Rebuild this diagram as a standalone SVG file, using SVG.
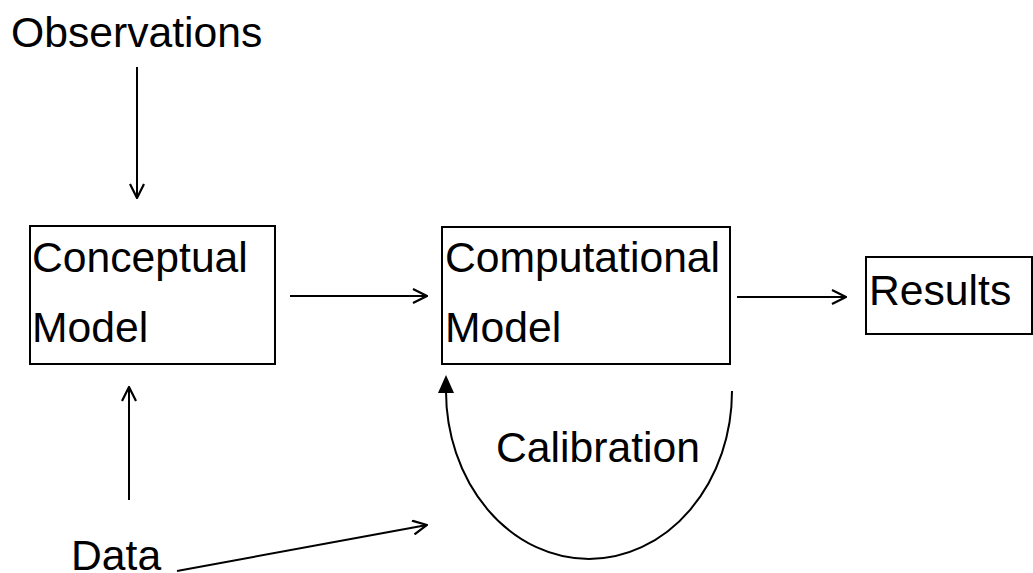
<svg xmlns="http://www.w3.org/2000/svg" width="1033" height="573" viewBox="0 0 1033 573">
<style>
text{font-family:"Liberation Sans",Arial,sans-serif;font-size:42.67px;fill:#000}
.box{fill:#fff;stroke:#000;stroke-width:2}
.ln{fill:none;stroke:#000;stroke-width:2}
</style>
<defs>
<marker id="open" viewBox="0 0 16 16" refX="15" refY="8" markerWidth="16" markerHeight="16" markerUnits="userSpaceOnUse" orient="auto">
<path d="M1,1 L15,8 L1,15" fill="none" stroke="#000" stroke-width="2.2"/>
</marker>
</defs>
<rect width="1033" height="573" fill="#fff"/>
<g id="observations"><text x="11" y="47">Observations</text></g>
<g id="conceptual"><rect class="box" x="30" y="226" width="245" height="138"/><text x="32" y="272">Conceptual</text><text x="32" y="342">Model</text></g>
<g id="computational"><rect class="box" x="442" y="227" width="288" height="137"/><text x="445" y="272">Computational</text><text x="445" y="342">Model</text></g>
<g id="results"><rect class="box" x="866" y="257" width="166" height="77"/><text x="869" y="305">Results</text></g>
<g id="data"><text x="71" y="570">Data</text></g>
<g id="calibration"><text x="496" y="462">Calibration</text></g>
<g id="connectors">
<line class="ln" x1="137" y1="67" x2="137" y2="198" marker-end="url(#open)"/>
<line class="ln" x1="129" y1="500" x2="129" y2="387" marker-end="url(#open)"/>
<line class="ln" x1="290" y1="296" x2="427" y2="296" marker-end="url(#open)"/>
<line class="ln" x1="737" y1="297" x2="846" y2="297" marker-end="url(#open)"/>
<line class="ln" x1="177" y1="571" x2="427" y2="525" marker-end="url(#open)"/>
<path class="ln" d="M732,391 A143,168 0 0 1 446,391"/>
<path d="M446,375 L454,393 L438,393 Z" fill="#000"/>
</g>
</svg>
